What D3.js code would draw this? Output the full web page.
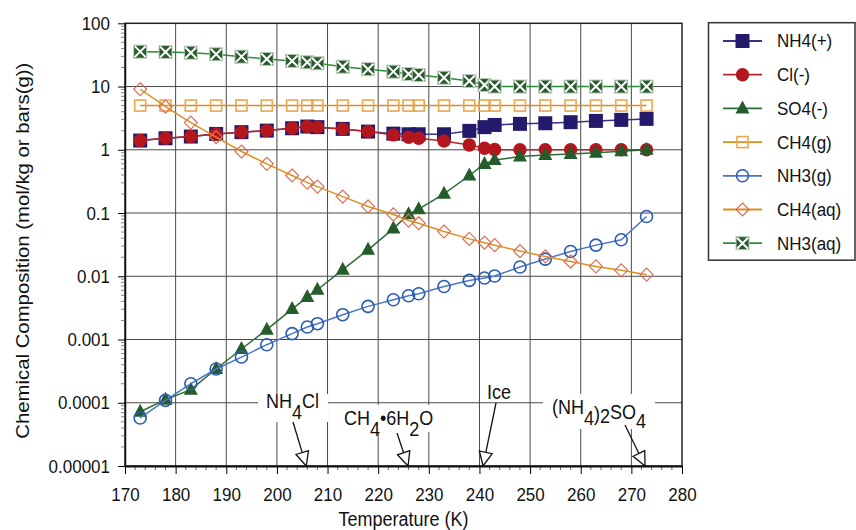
<!DOCTYPE html>
<html>
<head>
<meta charset="utf-8">
<script src="https://cdn.jsdelivr.net/npm/d3@7"></script>
<style>
  body { margin: 0; background: #fff; }
  svg { font-family: "Liberation Sans", Arial, Helvetica, sans-serif; }
</style>
</head>
<body>
<div id="chart"></div>
<script>
// temperatures (K) of the model points
var temps = [173, 178, 183, 188, 193, 198, 203, 206, 208, 213, 218, 223,
             226, 228, 233, 238, 241, 243, 248, 253, 258, 263, 268, 273];

var nh4 = [1.40, 1.52, 1.62, 1.78, 1.90, 2.01, 2.19, 2.33, 2.28, 2.14, 1.94, 1.80,
           1.76, 1.76, 1.76, 1.99, 2.28, 2.47, 2.57, 2.63, 2.73, 2.86, 2.97, 3.08];
var cl = [1.40, 1.52, 1.62, 1.78, 1.90, 2.01, 2.19, 2.33, 2.28, 2.14, 1.94, 1.72,
          1.58, 1.52, 1.38, 1.19, 1.06, 1.01, 1.0, 1.0, 1.0, 1.0, 1.0, 1.0];
var so4 = [0.000072, 0.000112, 0.000161, 0.000342, 0.000708, 0.00143, 0.00303, 0.00469,
           0.00612, 0.0127, 0.0262, 0.0567, 0.096, 0.115, 0.201, 0.392, 0.598, 0.69,
           0.78, 0.83, 0.86, 0.90, 0.95, 1.0];
var ch4g = [5, 5, 5, 5, 5, 5, 5, 5, 5, 5, 5, 5, 5, 5, 5, 5, 5, 5, 5, 5, 5, 5, 5, 5];
var nh3g = [0.0000575, 0.000109, 0.000200, 0.000342, 0.000528, 0.000828, 0.00124, 0.00158,
            0.00178, 0.00247, 0.00334, 0.00426, 0.00492, 0.00529, 0.0069, 0.0086, 0.0094,
            0.0101, 0.0140, 0.0187, 0.0247, 0.0311, 0.0378, 0.088];
var ch4aq = [9.06, 4.82, 2.69, 1.58, 0.94, 0.60, 0.392, 0.303, 0.262, 0.182, 0.127, 0.095,
             0.076, 0.069, 0.051, 0.039, 0.034, 0.031, 0.025, 0.0206, 0.0171, 0.0143,
             0.0124, 0.0106];
var nh3aq = [35.6, 35.2, 34.3, 32.4, 29.7, 27.3, 25.4, 24.2, 23.3, 20.6, 18.8, 17.2,
             15.8, 15.2, 13.8, 12.2, 10.6, 10, 10, 10, 10, 10, 10, 10];

var seriesNames = ["NH4(+)", "Cl(-)", "SO4(-)", "CH4(g)", "NH3(g)", "CH4(aq)", "NH3(aq)"];
var seriesValues = [nh4, cl, so4, ch4g, nh3g, ch4aq, nh3aq];

var xTicks = [170, 180, 190, 200, 210, 220, 230, 240, 250, 260, 270, 280];
var yTicks = [0.00001, 0.0001, 0.001, 0.01, 0.1, 1, 10, 100];
var yTickLabels = ["0.00001", "0.0001", "0.001", "0.01", "0.1", "1", "10", "100"];

// phase boundaries pointed at by arrows
var phaseNames = ["NH4Cl", "CH4•6H2O", "Ice", "(NH4)2SO4"];
var phaseTemps = [205.8, 225.9, 240.7, 272.7];

var styles = [
  { line: "#3b2f86", color: "#241a6c", shape: "square" },
  { line: "#b3262e", color: "#b3161d", shape: "circle" },
  { line: "#2c6b35", color: "#245c2b", shape: "triangle" },
  { line: "#d98e1f", color: "#eaa650", shape: "osquare" },
  { line: "#4a76c6", color: "#2b5bb5", shape: "ocircle" },
  { line: "#dc9020", color: "#dd6f55", shape: "diamond" },
  { line: "#2f8a3f", color: "#2a5a2e", shape: "xsquare" }
];

var W = 856, H = 530;
var pLeft = 125, pRight = 682, pTop = 23.3, pBottom = 466;
var stretch = 1.13; // the original's lettering is a little taller than wide

var svg = d3.select("#chart").append("svg")
  .attr("width", W).attr("height", H);

var x = d3.scaleLinear().domain([170, 280]).range([pLeft, pRight]);
var y = d3.scaleLog().domain([0.00001, 100]).range([pBottom, pTop]);

function tall(sel, ax, ay) {
  sel.attr("transform", "translate(" + ax + "," + ay + ") scale(1," + stretch + ") translate(" + (-ax) + "," + (-ay) + ")");
}

// grid
var grid = svg.append("g");
xTicks.slice(1, -1).forEach(function(t) {
  grid.append("line").attr("x1", x(t)).attr("x2", x(t))
    .attr("y1", pTop).attr("y2", pBottom)
    .attr("stroke", "#4a4a4a").attr("stroke-width", 1);
});
yTicks.slice(1, -1).forEach(function(t) {
  grid.append("line").attr("x1", pLeft).attr("x2", pRight)
    .attr("y1", y(t)).attr("y2", y(t))
    .attr("stroke", "#4a4a4a").attr("stroke-width", 1);
});

// frame
svg.append("rect").attr("x", pLeft).attr("y", pTop)
  .attr("width", pRight - pLeft).attr("height", pBottom - pTop)
  .attr("fill", "none").attr("stroke", "#222").attr("stroke-width", 1.5);

// minor ticks
var minorX = d3.range(172, 280, 2).filter(function(t) { return t % 10 != 0; });
svg.append("g").selectAll("line").data(minorX).enter().append("line")
  .attr("x1", function(d) { return x(d); }).attr("x2", function(d) { return x(d); })
  .attr("y1", pBottom).attr("y2", pBottom + 4)
  .attr("stroke", "#444").attr("stroke-width", 0.8);
var minorY = [];
for (var e = -5; e < 2; e++) {
  for (var m = 2; m < 10; m++) minorY.push(m * Math.pow(10, e));
}
svg.append("g").selectAll("line").data(minorY).enter().append("line")
  .attr("x1", pLeft - 4).attr("x2", pLeft)
  .attr("y1", function(d) { return y(d); }).attr("y2", function(d) { return y(d); })
  .attr("stroke", "#666").attr("stroke-width", 0.8);

// axes
var xAxis = svg.append("g").attr("transform", "translate(0," + pBottom + ")")
  .call(d3.axisBottom(x).tickValues(xTicks).tickSize(8).tickPadding(11).tickSizeOuter(0));
xAxis.select(".domain").attr("stroke", "#111").attr("stroke-width", 2.2);
xAxis.selectAll("text").attr("font-size", 17).attr("fill", "#111")
  .attr("font-family", "Liberation Sans, Arial, sans-serif")
  .attr("transform", "scale(1," + stretch + ")");

var yAxis = svg.append("g").attr("transform", "translate(" + pLeft + ",0)")
  .call(d3.axisLeft(y).tickValues(yTicks).tickSize(7).tickPadding(8).tickSizeOuter(0)
    .tickFormat(function(d, i) { return yTickLabels[i]; }));
yAxis.select(".domain").attr("stroke", "#111").attr("stroke-width", 1.5);
yAxis.selectAll("text").attr("font-size", 17).attr("fill", "#111")
  .attr("font-family", "Liberation Sans, Arial, sans-serif")
  .attr("transform", "scale(1," + stretch + ")");

var xt = svg.append("text").attr("x", (pLeft + pRight) / 2).attr("y", 526)
  .attr("text-anchor", "middle").attr("font-size", 18).attr("fill", "#111")
  .text("Temperature (K)");
tall(xt, (pLeft + pRight) / 2, 526);
svg.append("text")
  .attr("transform", "translate(29," + ((pTop + pBottom) / 2 + 6) + ") rotate(-90) scale(" + stretch + ",1)")
  .attr("text-anchor", "middle").attr("font-size", 18).attr("fill", "#111")
  .text("Chemical Composition (mol/kg or bars(g))");

// markers
function drawMarker(g, shape, color, cx, cy) {
  if (shape == "square") {
    g.append("rect").attr("x", cx - 7).attr("y", cy - 7).attr("width", 14).attr("height", 14)
      .attr("fill", color);
  } else if (shape == "circle") {
    g.append("circle").attr("cx", cx).attr("cy", cy).attr("r", 6.7).attr("fill", color);
  } else if (shape == "triangle") {
    g.append("path").attr("d", "M" + cx + "," + (cy - 8) + "L" + (cx + 7) + "," + (cy + 5)
      + "L" + (cx - 7) + "," + (cy + 5) + "Z").attr("fill", color);
  } else if (shape == "osquare") {
    g.append("rect").attr("x", cx - 5.5).attr("y", cy - 5.5).attr("width", 11).attr("height", 11)
      .attr("fill", "none").attr("stroke", color).attr("stroke-width", 1.6);
  } else if (shape == "ocircle") {
    g.append("circle").attr("cx", cx).attr("cy", cy).attr("r", 6)
      .attr("fill", "none").attr("stroke", color).attr("stroke-width", 1.6);
  } else if (shape == "diamond") {
    g.append("path").attr("d", "M" + cx + "," + (cy - 6.5) + "L" + (cx + 6.5) + "," + cy
      + "L" + cx + "," + (cy + 6.5) + "L" + (cx - 6.5) + "," + cy + "Z")
      .attr("fill", "none").attr("stroke", color).attr("stroke-width", 1.2);
  } else if (shape == "xsquare") {
    g.append("rect").attr("x", cx - 6.5).attr("y", cy - 6.5).attr("width", 13).attr("height", 13)
      .attr("fill", color).attr("stroke", "#b8cdb8").attr("stroke-width", 1);
    g.append("path").attr("d", "M" + (cx - 5.5) + "," + (cy - 5.5) + "L" + (cx + 5.5) + "," + (cy + 5.5)
      + "M" + (cx + 5.5) + "," + (cy - 5.5) + "L" + (cx - 5.5) + "," + (cy + 5.5))
      .attr("stroke", "#fff").attr("stroke-width", 2);
  }
}

var line = d3.line()
  .x(function(d) { return x(d[0]); })
  .y(function(d) { return y(d[1]); });

var plot = svg.append("g");
seriesValues.forEach(function(vals, i) {
  var pts = temps.map(function(t, j) { return [t, vals[j]]; });
  var g = plot.append("g");
  g.append("path").datum(pts).attr("d", line)
    .attr("fill", "none").attr("stroke", styles[i].line).attr("stroke-width", 1.5);
  pts.forEach(function(p) {
    drawMarker(g, styles[i].shape, styles[i].color, x(p[0]), y(p[1]));
  });
});

// phase annotations
var labelSpecs = [
  { lx: 266, ly: 408, box: [258, 394, 70, 28], sx: 293, sy: 422,
    parts: [["NH", 0], ["4", 10], ["Cl", -10]] },
  { lx: 344, ly: 425, box: [340, 405, 96, 27], sx: 397, sy: 433,
    parts: [["CH", 0], ["4", 10], ["•6H", -10], ["2", 10], ["O", -10]] },
  { lx: 487, ly: 399, box: [484, 383, 30, 18], sx: 496, sy: 403,
    parts: [["Ice", 0]] },
  { lx: 552, ly: 414, box: [543, 394, 112, 35], sx: 625, sy: 425,
    parts: [["(NH", 0], ["4", 10], [")", -4], ["2", 2], ["SO", -4], ["4", 8]] }
];
var ann = svg.append("g");
phaseNames.forEach(function(name, i) {
  var s = labelSpecs[i];
  ann.append("rect").attr("x", s.box[0]).attr("y", s.box[1])
    .attr("width", s.box[2]).attr("height", s.box[3]).attr("fill", "#fff");
  var t = ann.append("text").attr("x", s.lx).attr("y", s.ly)
    .attr("font-size", 18).attr("fill", "#111");
  s.parts.forEach(function(p) {
    t.append("tspan").attr("dy", p[1]).text(p[0]);
  });
  tall(t, s.lx, s.ly);
  // arrow to the axis
  var tx = x(phaseTemps[i]), ty = y(0.00001);
  var dx = tx - s.sx, dy = ty - s.sy, len = Math.sqrt(dx * dx + dy * dy);
  var ux = dx / len, uy = dy / len;
  var hl = 14, hw = 6.5;
  var bx = tx - ux * hl, by = ty - uy * hl;
  ann.append("line").attr("x1", s.sx).attr("y1", s.sy).attr("x2", bx).attr("y2", by)
    .attr("stroke", "#111").attr("stroke-width", 1.3);
  ann.append("path").attr("d", "M" + tx + "," + ty
      + "L" + (bx - uy * hw) + "," + (by + ux * hw)
      + "L" + (bx + uy * hw) + "," + (by - ux * hw) + "Z")
    .attr("fill", "#fff").attr("stroke", "#111").attr("stroke-width", 1.3);
});

// legend
var lg = svg.append("g");
lg.append("rect").attr("x", 708.5).attr("y", 22.7).attr("width", 146.5).attr("height", 237.5)
  .attr("fill", "#fff").attr("stroke", "#333").attr("stroke-width", 1.5);
seriesNames.forEach(function(name, i) {
  var ly = 41 + i * 33.7;
  var g = lg.append("g");
  g.append("line").attr("x1", 723).attr("x2", 762).attr("y1", ly).attr("y2", ly)
    .attr("stroke", styles[i].line).attr("stroke-width", 1.8);
  drawMarker(g, styles[i].shape, styles[i].color, 742.5, ly);
  var t = g.append("text").attr("x", 777).attr("y", ly + 6.5).attr("font-size", 17).attr("fill", "#111")
    .text(name);
  tall(t, 777, ly + 6.5);
});
</script>
</body>
</html>
